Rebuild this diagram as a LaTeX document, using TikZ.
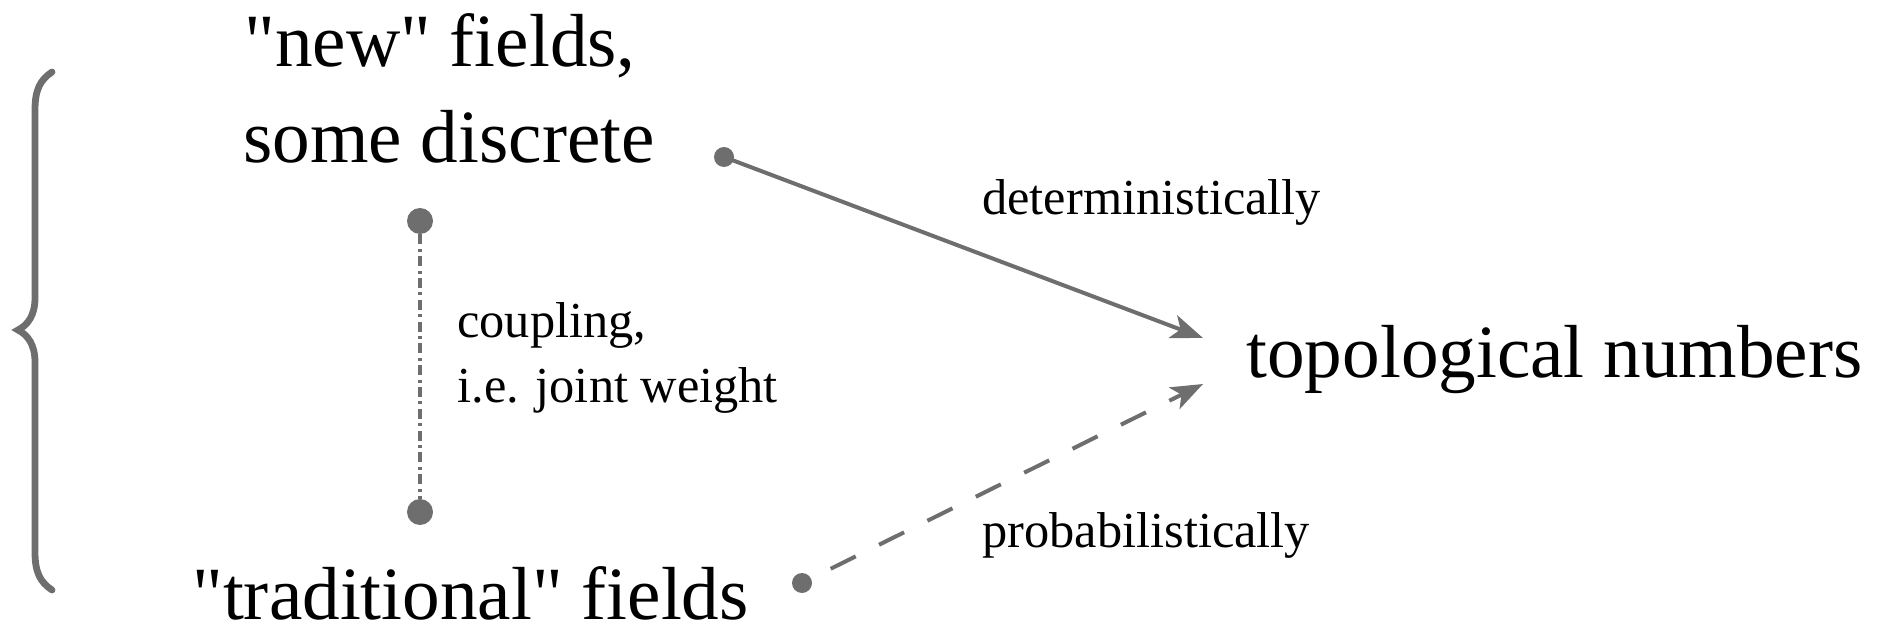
\documentclass[tikz,border=0pt]{standalone}
\usepackage{fontspec}
\setmainfont{Liberation Serif}[Ligatures=TeXOff]
\usetikzlibrary{arrows.meta}
\definecolor{lgray}{HTML}{6E6E6E}
\tikzset{
  bigtxt/.style={anchor=base west, inner sep=0pt, font=\fontsize{37.6}{48}\selectfont},
  smalltxt/.style={anchor=base west, inner sep=0pt, font=\fontsize{25.2}{32.5}\selectfont},
  bigdot/.style={circle, fill=lgray, inner sep=0pt, minimum size=13pt},
  smalldot/.style={circle, fill=lgray, inner sep=0pt, minimum size=10pt},
  conn/.style={draw=lgray, line width=2pt},
  arrowhd/.style={-{Stealth[length=16pt, width=12pt, inset=4pt]}},
}
\begin{document}
\begin{tikzpicture}[x=0.5pt, y=-0.5pt]
\useasboundingbox (0,0) rectangle (1896,636);
% brace
\draw[lgray, line width=3.4pt, line cap=round]
  (52,72) .. controls (40,80) and (35,90) .. (35,110)
  -- (35,298) .. controls (35,315) and (28,325) .. (18,330)
  .. controls (28,335) and (35,345) .. (35,362)
  -- (35,552) .. controls (35,572) and (40,582) .. (52,590);
% texts
\node[bigtxt] (new) at (244,67) {"new" fields,};
\node[bigtxt] (some) at (243,163) {some discrete};
\node[bigtxt] (trad) at (192,619) {"traditional" fields};
\node[bigtxt] (topo) at (1246,378) {topological numbers};
\node[smalltxt] (det) at (982,215) {deterministically};
\node[smalltxt] (prob) at (982,547) {probabilistically};
\node[smalltxt] (coup) at (457,337) {coupling,};
\node[smalltxt] (joint) at (457,402) {i.e. joint weight};
% dots
\node[bigdot] (ctop) at (420,221) {};
\node[bigdot] (cbot) at (420,512) {};
\node[smalldot] (dstart) at (724,157) {};
\node[smalldot] (pstart) at (802,583) {};
\coordinate (dend) at (1203,338);
\coordinate (pend) at (1203,384);
% connectors
\draw[conn, line width=2pt, dash pattern=on 5pt off 2.2pt on 1.5pt off 2.2pt] (ctop) -- (cbot);
\draw[conn, arrowhd] (dstart.center) -- (dend);
\draw[conn, arrowhd, dash pattern=on 14pt off 13pt, dash phase=11pt] (pstart.center) -- (pend);
\end{tikzpicture}
\end{document}
